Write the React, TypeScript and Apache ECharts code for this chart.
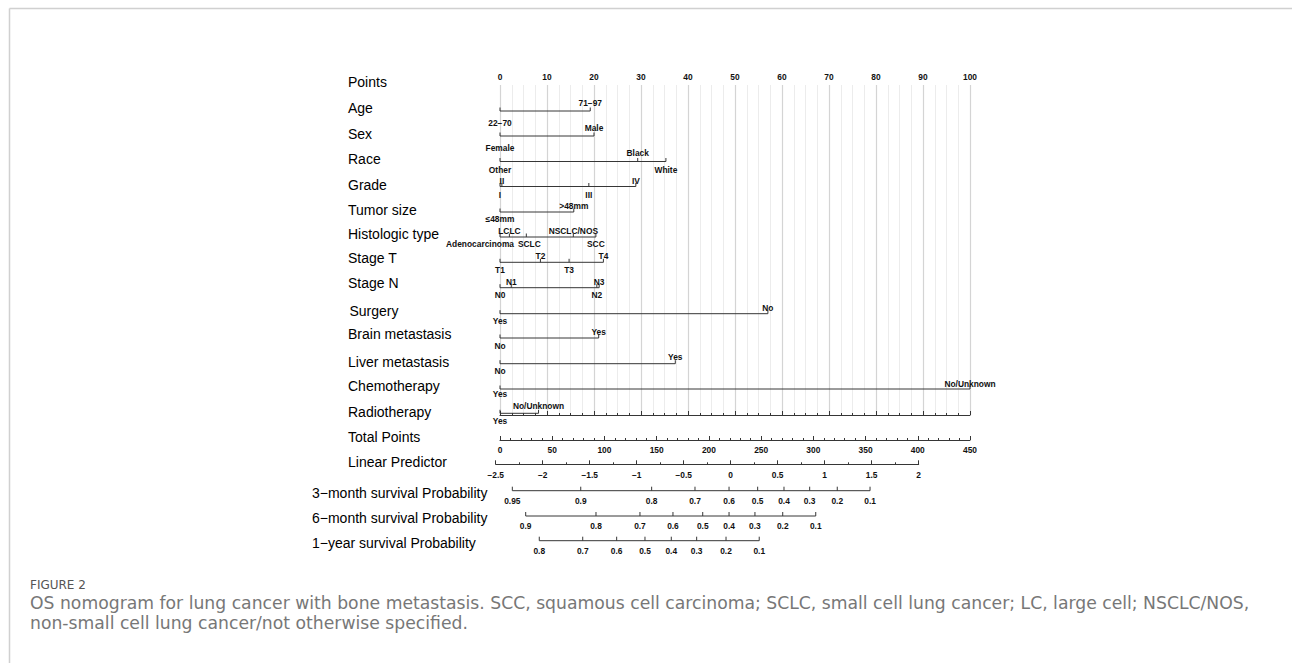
import React, { useEffect, useRef } from "react";
import * as echarts from "echarts";

// ---------- DATA ----------
const rowNames = [
  "Age", "Sex", "Race", "Grade", "Tumor size", "Histologic type", "Stage T", "Stage N",
  "Surgery", "Brain metastasis", "Liver metastasis", "Chemotherapy", "Radiotherapy",
];

const ageLevels = ["22\u221270", "71\u221297"];
const agePoints = [0, 19.2];
const sexLevels = ["Female", "Male"];
const sexPoints = [0, 20];
const raceLevels = ["Other", "Black", "White"];
const racePoints = [0, 29.3, 35.3];
const gradeLevels = ["I", "II", "III", "IV"];
const gradePoints = [0, 0.4, 18.9, 28.9];
const tumorLevels = ["\u226448mm", ">48mm"];
const tumorPoints = [0, 15.7];
const histLevels = ["Adenocarcinoma", "LCLC", "SCLC", "NSCLC/NOS", "SCC"];
const histPoints = [0, 2.0, 5.6, 15.6, 20.4];
const stageTLevels = ["T1", "T2", "T3", "T4"];
const stageTPoints = [0, 8.6, 14.7, 22.0];
const stageNLevels = ["N0", "N1", "N2", "N3"];
const stageNPoints = [0, 2.4, 20.6, 21.1];
const surgeryLevels = ["Yes", "No"];
const surgeryPoints = [0, 57];
const brainLevels = ["No", "Yes"];
const brainPoints = [0, 21];
const liverLevels = ["No", "Yes"];
const liverPoints = [0, 37.3];
const chemoLevels = ["Yes", "No/Unknown"];
const chemoPoints = [0, 100];
const radioLevels = ["Yes", "No/Unknown"];
const radioPoints = [0, 8.2];

const variableLevels = [
  ageLevels, sexLevels, raceLevels, gradeLevels, tumorLevels, histLevels, stageTLevels,
  stageNLevels, surgeryLevels, brainLevels, liverLevels, chemoLevels, radioLevels,
];
const variablePoints = [
  agePoints, sexPoints, racePoints, gradePoints, tumorPoints, histPoints, stageTPoints,
  stageNPoints, surgeryPoints, brainPoints, liverPoints, chemoPoints, radioPoints,
];

const pointsMax = 100;
const totalPointsMax = 450;
const lpMin = -2.5;
const lpMax = 2;

const probNames = [
  "3\u2212month survival Probability",
  "6\u2212month survival Probability",
  "1\u2212year survival Probability",
];
const prob3mValues = [0.95, 0.9, 0.8, 0.7, 0.6, 0.5, 0.4, 0.3, 0.2, 0.1];
const prob3mTotalPoints = [11.8, 77.3, 145.2, 186.7, 219.3, 246.7, 271.9, 296.5, 322.9, 354.3];
const prob6mValues = [0.9, 0.8, 0.7, 0.6, 0.5, 0.4, 0.3, 0.2, 0.1];
const prob6mTotalPoints = [24.6, 91.9, 134.0, 165.6, 194.1, 219.3, 244.1, 270.7, 302.3];
const prob1yValues = [0.8, 0.7, 0.6, 0.5, 0.4, 0.3, 0.2, 0.1];
const prob1yTotalPoints = [37.6, 79.2, 111.7, 138.8, 164.0, 188.3, 216.4, 248.2];

const probValues = [prob3mValues, prob6mValues, prob1yValues];
const probTotalPoints = [prob3mTotalPoints, prob6mTotalPoints, prob1yTotalPoints];

const captionTitle = "FIGURE 2";
const captionLines = [
  "OS nomogram for lung cancer with bone metastasis. SCC, squamous cell carcinoma; SCLC, small cell lung cancer; LC, large cell; NSCLC/NOS,",
  "non-small cell lung cancer/not otherwise specified.",
];

// ---------- LAYOUT (pixel rows, styles) ----------
const W = 1292;
const H = 663;
const rowLineY = [111, 136, 161.5, 186.5, 212, 237, 262.3, 287.7, 313.7, 338, 363.7, 389, 413.3];
const rowAboveY = [103, 127.5, 153, 181, 206, 230.7, 255.7, 282, 307.5, 332, 357, 383.7, 405.7];
const rowBelowY = [122.5, 147.5, 169.5, 195, 218.5, 244, 270.3, 295.3, 320.5, 346, 371, 394.3, 421];
const rowLabelY = [108.3, 134.3, 159.3, 185, 210, 234, 258, 283, 310.7, 334, 361.7, 385.7, 411.5];
const labelNudgeX: Record<string, number> = { Adenocarcinoma: -20, SCLC: 3 };
const probLineY = [490.7, 516, 540.7];
const probTickLabelY = [501, 526.3, 551];
const probLabelY = [492.7, 518.3, 543.3];
const captionTitleY = 585;
const captionY = [603, 623];

const FONT = '"Liberation Sans", Arial, Helvetica, sans-serif';
const CAP_FONT = '"DejaVu Sans", "Open Sans", sans-serif';
const LINE = "#363636";
const TXT = "#111";
const TICK_FS = 8.4;

function fmtMinus(v: number) {
  return v < 0 ? "\u2212" + String(Math.abs(v)) : String(v);
}

function buildOption() {
  const varData: number[][] = [];
  variableLevels.forEach((lv, r) =>
    lv.forEach((_, j) => varData.push([variablePoints[r][j], r, j]))
  );
  const probData: number[][] = [];
  probTotalPoints.forEach((arr, a) => arr.forEach((tp, i) => probData.push([tp, a, i])));

  const tickText = (text: string, x: number, y: number) => ({
    type: "text",
    x,
    y,
    style: {
      text,
      fill: TXT,
      fontSize: TICK_FS,
      fontWeight: "bold",
      fontFamily: FONT,
      textAlign: "center",
      textVerticalAlign: "middle",
    },
  });

  const graphics: any[] = [
    { type: "line", shape: { x1: 9.5, y1: 8.5, x2: W, y2: 8.5 }, style: { stroke: "#d0d0d0", lineWidth: 1.5 } },
    { type: "line", shape: { x1: 9.5, y1: 8.5, x2: 9.5, y2: H }, style: { stroke: "#d0d0d0", lineWidth: 1.5 } },
  ];
  const leftLabel = (text: string, x: number, y: number) => ({
    type: "text",
    x,
    y,
    style: {
      text,
      fill: "#000",
      fontSize: 14,
      fontFamily: FONT,
      textAlign: "left",
      textVerticalAlign: "middle",
    },
  });
  graphics.push(leftLabel("Points", 348, 81.7));
  rowNames.forEach((n, r) => graphics.push(leftLabel(n, n === "Surgery" ? 349.5 : 348, rowLabelY[r])));
  graphics.push(leftLabel("Total Points", 348, 436.7));
  graphics.push(leftLabel("Linear Predictor", 348, 462));
  probNames.forEach((n, a) => graphics.push(leftLabel(n, 312, probLabelY[a])));

  graphics.push({
    type: "text",
    x: 30,
    y: captionTitleY,
    style: {
      text: captionTitle,
      fill: "#555",
      fontSize: 12,
      fontFamily: CAP_FONT,
      textVerticalAlign: "middle",
    },
  });
  captionLines.forEach((t, k) =>
    graphics.push({
      type: "text",
      x: 30,
      y: captionY[k],
      scaleX: 1.026,
      style: {
        text: t,
        fill: "#777",
        fontSize: 16.8,
        fontFamily: CAP_FONT,
        textVerticalAlign: "middle",
      },
    })
  );

  const axisLabelStyle = {
    color: TXT,
    fontSize: TICK_FS,
    fontWeight: "bold" as const,
    fontFamily: FONT,
  };

  return {
    animation: false,
    grid: [
      { left: 500, width: 470, top: 0, height: H },
      { left: 500, width: 470, top: 85, height: 330 },
      { left: 500, width: 470, top: 439, height: 1 },
      { left: 495.7, width: 423, top: 463.3, height: 1 },
    ],
    xAxis: [
      { gridIndex: 0, type: "value", min: 0, max: pointsMax, show: false },
      { gridIndex: 0, type: "value", min: 0, max: totalPointsMax, show: false },
      {
        gridIndex: 1,
        type: "value",
        position: "top",
        min: 0,
        max: pointsMax,
        interval: 10,
        axisLine: { show: true, lineStyle: { color: LINE, width: 1 } },
        axisTick: { show: true, length: 4, lineStyle: { color: LINE } },
        minorTick: { show: true, splitNumber: 4, length: 2, lineStyle: { color: LINE } },
        axisLabel: { ...axisLabelStyle, margin: 4 },
        splitLine: { show: true, lineStyle: { color: "#d4d4d4", width: 1.2 } },
        minorSplitLine: { show: true, lineStyle: { color: "#ececec", width: 1 } },
      },
      {
        gridIndex: 2,
        type: "value",
        position: "bottom",
        min: 0,
        max: totalPointsMax,
        interval: 50,
        axisLine: { show: true, onZero: false, lineStyle: { color: LINE, width: 1 } },
        axisTick: { show: true, inside: true, length: 4, lineStyle: { color: LINE } },
        minorTick: { show: true, splitNumber: 5, length: 2, lineStyle: { color: LINE } },
        axisLabel: { ...axisLabelStyle, margin: 6 },
        splitLine: { show: false },
      },
      {
        gridIndex: 3,
        type: "value",
        position: "bottom",
        min: lpMin,
        max: lpMax,
        interval: 0.5,
        axisLine: { show: true, onZero: false, lineStyle: { color: LINE, width: 1 } },
        axisTick: { show: true, inside: true, length: 4, lineStyle: { color: LINE } },
        minorTick: { show: true, splitNumber: 2, length: 2, lineStyle: { color: LINE } },
        axisLabel: { ...axisLabelStyle, margin: 7, formatter: (v: number) => fmtMinus(v) },
        splitLine: { show: false },
      },
    ],
    yAxis: [
      { gridIndex: 0, type: "value", min: 0, max: H, inverse: true, show: false },
      { gridIndex: 1, type: "value", min: 0, max: 1, show: false },
      { gridIndex: 2, type: "value", min: 0, max: 1, show: false },
      { gridIndex: 3, type: "value", min: 0, max: 1, show: false },
    ],
    graphic: graphics,
    series: [
      {
        type: "custom",
        name: "variables",
        xAxisIndex: 0,
        yAxisIndex: 0,
        clip: false,
        silent: true,
        z: 5,
        data: varData,
        encode: { x: 0 },
        renderItem: (_params: any, api: any) => {
          const r = api.value(1);
          const j = api.value(2);
          const lineY = rowLineY[r];
          const [x, y] = api.coord([api.value(0), lineY]);
          const children: any[] = [];
          if (j === 0) {
            const maxP = Math.max(...variablePoints[r]);
            const [x2] = api.coord([maxP, lineY]);
            children.push({
              type: "line",
              shape: { x1: x, y1: y, x2, y2: y },
              style: { stroke: LINE, lineWidth: 1 },
            });
          }
          children.push({
            type: "line",
            shape: { x1: x, y1: y, x2: x, y2: y - 3.5 },
            style: { stroke: LINE, lineWidth: 1 },
          });
          const above = j % 2 === 1;
          const ty = api.coord([0, above ? rowAboveY[r] : rowBelowY[r]])[1];
          const label = variableLevels[r][j];
          children.push(tickText(label, x + (labelNudgeX[label] || 0), ty));
          return { type: "group", children };
        },
      },
      {
        type: "custom",
        name: "probabilities",
        xAxisIndex: 1,
        yAxisIndex: 0,
        clip: false,
        silent: true,
        z: 5,
        data: probData,
        encode: { x: 0 },
        renderItem: (_params: any, api: any) => {
          const a = api.value(1);
          const i = api.value(2);
          const lineY = probLineY[a];
          const [x, y] = api.coord([api.value(0), lineY]);
          const children: any[] = [];
          if (i === 0) {
            const arr = probTotalPoints[a];
            const [x2] = api.coord([arr[arr.length - 1], lineY]);
            children.push({
              type: "line",
              shape: { x1: x, y1: y, x2, y2: y },
              style: { stroke: LINE, lineWidth: 1 },
            });
          }
          children.push({
            type: "line",
            shape: { x1: x, y1: y, x2: x, y2: y - 4 },
            style: { stroke: LINE, lineWidth: 1 },
          });
          const ty = api.coord([0, probTickLabelY[a]])[1];
          children.push(tickText(String(probValues[a][i]), x, ty));
          return { type: "group", children };
        },
      },
    ],
  };
}

export default function App() {
  const ref = useRef<HTMLDivElement>(null);
  useEffect(() => {
    document.body.style.margin = "0";
    const chart = echarts.init(ref.current!, null, { renderer: "svg" });
    chart.setOption(buildOption() as any);
    return () => chart.dispose();
  }, []);
  return <div ref={ref} style={{ width: W, height: H, background: "#fff" }} />;
}
